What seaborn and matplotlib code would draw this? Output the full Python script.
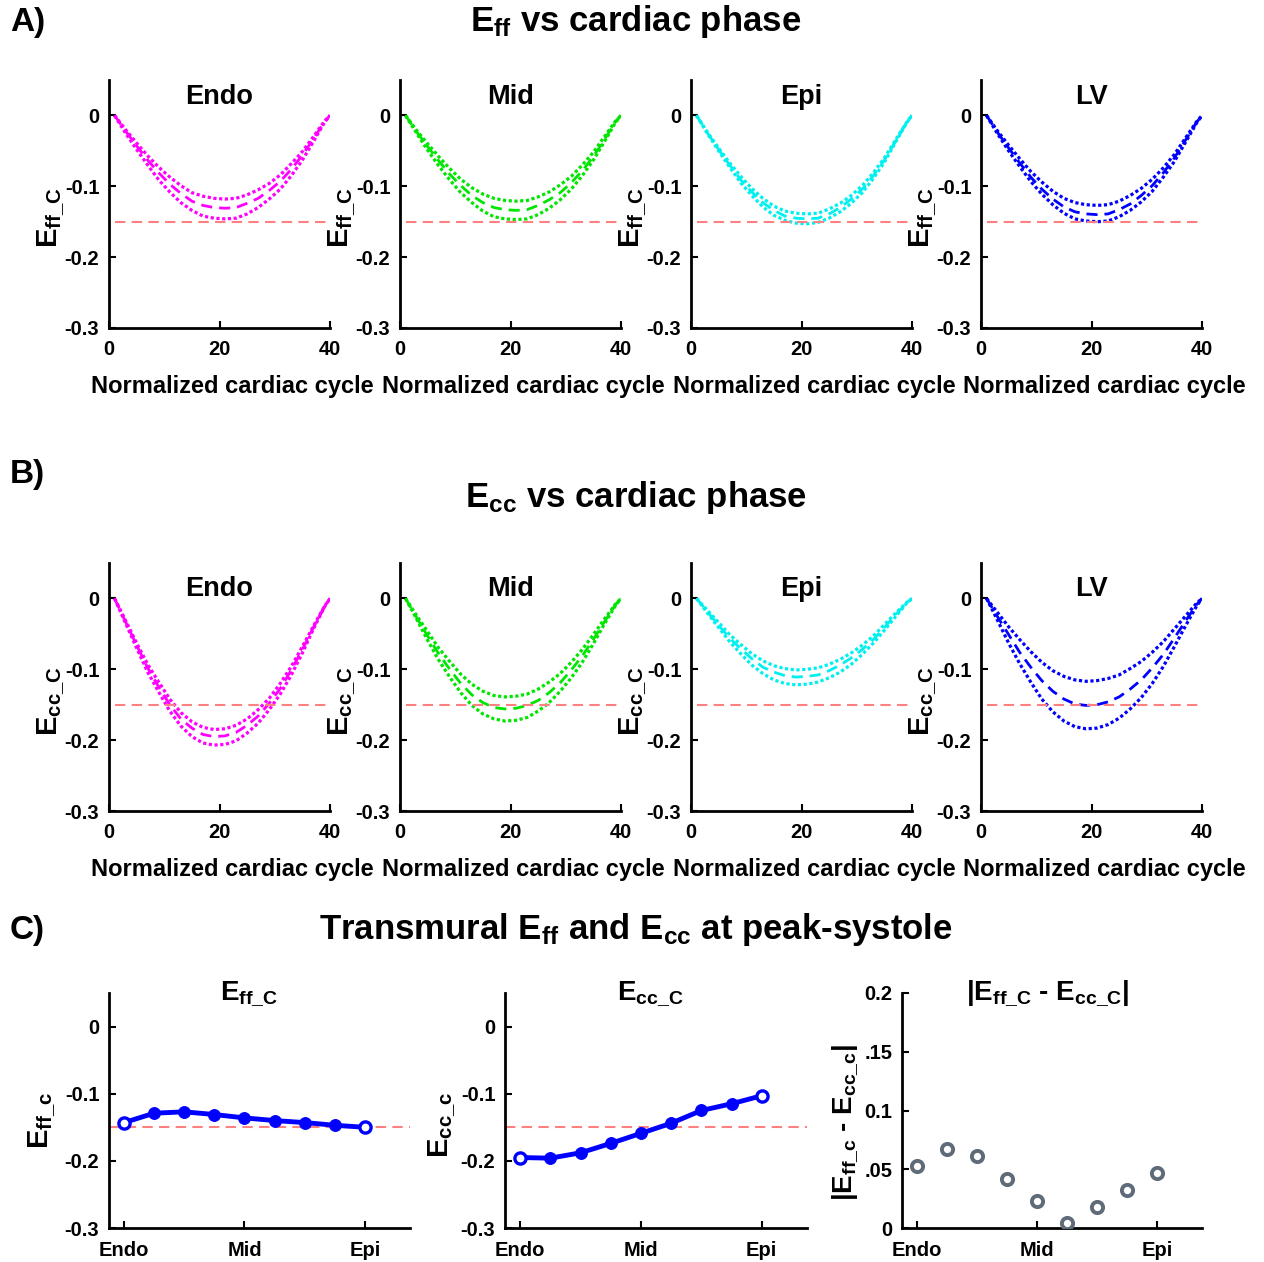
import seaborn as sns
import matplotlib
matplotlib.use('Agg')
import matplotlib.pyplot as plt

# frames sampled along the normalized cardiac cycle
frames = [1, 3, 5, 7, 9, 11, 13, 15, 17, 19, 21, 23, 25, 27, 29, 31, 33, 35, 37, 39, 40]

# E_ff per region: upper band, mean, lower band
eff_endo_hi = [0, -.020, -.039, -.057, -.073, -.087, -.099, -.109, -.114, -.117, -.118, -.117, -.112, -.105, -.096, -.084, -.068, -.051, -.030, -.008, 0]
eff_endo_mn = [0, -.022, -.043, -.063, -.081, -.097, -.110, -.121, -.127, -.130, -.131, -.130, -.124, -.117, -.106, -.093, -.076, -.056, -.033, -.009, 0]
eff_endo_lo = [0, -.025, -.048, -.070, -.091, -.108, -.123, -.134, -.142, -.145, -.146, -.145, -.139, -.130, -.118, -.104, -.085, -.063, -.037, -.010, 0]

eff_mid_hi = [0, -.021, -.040, -.058, -.075, -.090, -.102, -.111, -.117, -.120, -.121, -.120, -.115, -.108, -.098, -.086, -.070, -.052, -.030, -.008, 0]
eff_mid_mn = [0, -.023, -.044, -.064, -.083, -.099, -.113, -.123, -.130, -.133, -.134, -.133, -.127, -.119, -.109, -.095, -.078, -.058, -.034, -.009, 0]
eff_mid_lo = [0, -.025, -.049, -.071, -.091, -.109, -.123, -.135, -.143, -.146, -.147, -.146, -.140, -.131, -.119, -.104, -.085, -.063, -.037, -.010, 0]

eff_epi_hi = [0, -.024, -.046, -.067, -.086, -.103, -.117, -.128, -.135, -.138, -.139, -.138, -.132, -.124, -.113, -.099, -.081, -.060, -.035, -.010, 0]
eff_epi_mn = [0, -.025, -.048, -.070, -.091, -.108, -.123, -.134, -.142, -.145, -.146, -.145, -.139, -.130, -.118, -.104, -.085, -.063, -.037, -.010, 0]
eff_epi_lo = [0, -.026, -.050, -.073, -.095, -.113, -.129, -.141, -.148, -.152, -.153, -.151, -.145, -.136, -.124, -.109, -.089, -.066, -.038, -.011, 0]

eff_lv_hi = [0, -.022, -.042, -.061, -.079, -.094, -.107, -.117, -.123, -.126, -.127, -.126, -.121, -.113, -.103, -.090, -.074, -.055, -.032, -.009, 0]
eff_lv_mn = [0, -.024, -.046, -.067, -.087, -.104, -.118, -.129, -.136, -.139, -.140, -.139, -.133, -.125, -.113, -.099, -.081, -.060, -.035, -.010, 0]
eff_lv_lo = [0, -.026, -.050, -.072, -.093, -.111, -.126, -.138, -.146, -.149, -.150, -.149, -.143, -.134, -.122, -.107, -.087, -.065, -.038, -.011, 0]

# E_cc per region: upper band, mean, lower band
ecc_endo_hi = [0, -.031, -.063, -.093, -.118, -.142, -.161, -.174, -.182, -.185, -.184, -.179, -.170, -.157, -.141, -.120, -.096, -.068, -.039, -.011, 0]
ecc_endo_mn = [0, -.033, -.066, -.098, -.125, -.150, -.170, -.183, -.192, -.195, -.194, -.189, -.179, -.166, -.148, -.127, -.101, -.072, -.041, -.012, 0]
ecc_endo_lo = [0, -.035, -.070, -.104, -.132, -.159, -.180, -.195, -.204, -.207, -.206, -.201, -.190, -.176, -.157, -.135, -.108, -.077, -.043, -.012, 0]

ecc_mid_hi = [0, -.024, -.047, -.070, -.089, -.107, -.121, -.131, -.137, -.139, -.138, -.135, -.128, -.118, -.106, -.090, -.072, -.051, -.029, -.008, 0]
ecc_mid_mn = [0, -.027, -.053, -.078, -.100, -.120, -.136, -.147, -.154, -.156, -.155, -.151, -.144, -.133, -.119, -.101, -.081, -.058, -.033, -.009, 0]
ecc_mid_lo = [0, -.029, -.059, -.087, -.111, -.133, -.151, -.163, -.170, -.173, -.172, -.168, -.159, -.147, -.131, -.112, -.090, -.064, -.036, -.010, 0]

ecc_epi_hi = [0, -.017, -.034, -.051, -.065, -.078, -.088, -.095, -.099, -.101, -.100, -.098, -.093, -.086, -.077, -.066, -.053, -.037, -.021, -.006, 0]
ecc_epi_mn = [0, -.019, -.038, -.056, -.071, -.085, -.097, -.104, -.109, -.111, -.110, -.108, -.102, -.094, -.084, -.072, -.058, -.041, -.023, -.007, 0]
ecc_epi_lo = [0, -.021, -.041, -.061, -.078, -.094, -.106, -.115, -.120, -.122, -.121, -.118, -.112, -.104, -.093, -.079, -.063, -.045, -.026, -.007, 0]

ecc_lv_hi = [0, -.020, -.040, -.058, -.075, -.090, -.102, -.110, -.115, -.117, -.116, -.113, -.108, -.099, -.089, -.076, -.061, -.043, -.025, -.007, 0]
ecc_lv_mn = [0, -.026, -.051, -.076, -.097, -.116, -.131, -.142, -.149, -.151, -.150, -.146, -.139, -.128, -.115, -.098, -.079, -.056, -.032, -.009, 0]
ecc_lv_lo = [0, -.031, -.063, -.092, -.118, -.142, -.160, -.173, -.181, -.184, -.183, -.178, -.169, -.156, -.140, -.120, -.096, -.068, -.039, -.011, 0]

# transmural values at peak systole (Endo -> Epi)
layers = [1, 2, 3, 4, 5, 6, 7, 8, 9]
eff_peak = [-.143, -.129, -.127, -.131, -.136, -.140, -.143, -.147, -.150]
ecc_peak = [-.195, -.196, -.188, -.174, -.159, -.144, -.125, -.115, -.103]
diff_peak = [.053, .067, .061, .042, .023, .004, .018, .032, .047]

regions = ['Endo', 'Mid', 'Epi', 'LV']
region_colors = ['#ff00ff', '#00e600', '#00f0f0', '#0000ff']
threshold = -0.15

eff_curves = [(eff_endo_hi, eff_endo_mn, eff_endo_lo), (eff_mid_hi, eff_mid_mn, eff_mid_lo),
              (eff_epi_hi, eff_epi_mn, eff_epi_lo), (eff_lv_hi, eff_lv_mn, eff_lv_lo)]
ecc_curves = [(ecc_endo_hi, ecc_endo_mn, ecc_endo_lo), (ecc_mid_hi, ecc_mid_mn, ecc_mid_lo),
              (ecc_epi_hi, ecc_epi_mn, ecc_epi_lo), (ecc_lv_hi, ecc_lv_mn, ecc_lv_lo)]

sns.set_style('ticks')
plt.rcParams['font.family'] = ['Liberation Sans', 'DejaVu Sans']
plt.rcParams['font.weight'] = 'bold'
plt.rcParams['axes.labelweight'] = 'bold'
plt.rcParams['text.color'] = 'black'
plt.rcParams['axes.labelcolor'] = 'black'
plt.rcParams['xtick.color'] = 'black'
plt.rcParams['ytick.color'] = 'black'
plt.rcParams['mathtext.fontset'] = 'custom'
plt.rcParams['mathtext.rm'] = 'Liberation Sans:bold'
plt.rcParams['mathtext.it'] = 'Liberation Sans:bold'
plt.rcParams['mathtext.bf'] = 'Liberation Sans:bold'
plt.rcParams['axes.unicode_minus'] = False

W, H = 1264, 1262
fig = plt.figure(figsize=(W / 100, H / 100), dpi=100)


def px_axes(left, top, right, bottom):
    return fig.add_axes([left / W, 1 - bottom / H, (right - left) / W, (bottom - top) / H])


def style_axes(ax, xpad):
    sns.despine(ax=ax)
    for s in ['left', 'bottom']:
        ax.spines[s].set_linewidth(2)
        ax.spines[s].set_color('black')
    ax.tick_params(direction='in', length=5, width=1.5, labelsize=14.5, pad=7, colors='black')
    ax.tick_params(axis='x', pad=xpad)
    for lab in ax.get_xticklabels() + ax.get_yticklabels():
        lab.set_fontweight('bold')


lefts = [109, 400, 691, 981]
rows = [(80, 328, eff_curves, r'$\mathrm{E_{ff\_C}}$', 0.903),
        (563, 811, ecc_curves, r'$\mathrm{E_{cc\_C}}$', 0.867)]

for top, bottom, curves, ylab, title_y in rows:
    for i, left in enumerate(lefts):
        ax = px_axes(left, top, left + 221, bottom)
        hi, mn, lo = curves[i]
        c = region_colors[i]
        sns.lineplot(x=frames, y=hi, ax=ax, color=c, linestyle=(0, (1, 0.8)), linewidth=2.3)
        sns.lineplot(x=frames, y=lo, ax=ax, color=c, linestyle=(0, (1, 0.8)), linewidth=2.3)
        sns.lineplot(x=frames, y=mn, ax=ax, color=c, linestyle=(0, (4, 2.5)), linewidth=2)
        ax.hlines(threshold, frames[0], frames[-1], colors='#ff8080', linestyles=(0, (5, 3)), linewidth=1.5)
        ax.set_xlim(0, 40)
        ax.set_ylim(-0.3, 0.05)
        ax.set_xticks([0, 20, 40])
        ax.set_xticklabels(['0', '20', '40'])
        ax.set_yticks([0, -0.1, -0.2, -0.3])
        ax.set_yticklabels(['0', '-0.1', '-0.2', '-0.3'])
        style_axes(ax, 9)
        ax.text(0.5, title_y, regions[i], transform=ax.transAxes, ha='center', va='baseline',
                fontsize=19.5, fontweight='bold')
        ax.set_xlabel('Normalized cardiac cycle', fontsize=17, fontweight='bold')
        ax.xaxis.set_label_coords(0.56, -0.19)
        ax.set_ylabel(ylab, fontsize=21)
        ax.yaxis.set_label_coords(-0.19, 0.445)

# part C
c_axes = [(109, 410), (505, 807), (902, 1202)]
c_titles = [r'$\mathrm{E_{ff\_C}}$', r'$\mathrm{E_{cc\_C}}$', r'|E$_{\mathrm{ff\_C}}$ - E$_{\mathrm{cc\_C}}$|']
c_title_x = [0.465, 0.48, 0.487]
c_ylabels = [r'$\mathrm{E_{ff\_c}}$', r'$\mathrm{E_{cc\_c}}$', r'|E$_{\mathrm{ff\_c}}$ - E$_{\mathrm{cc\_c}}$|']
c_ylab_pos = [(-0.17, 0.46), (-0.156, 0.44), (-0.14, 0.45)]

for j, (l, r) in enumerate(c_axes):
    ax = px_axes(l, 993, r, 1228)
    if j < 2:
        vals = eff_peak if j == 0 else ecc_peak
        ax.axhline(threshold, color='#ff8080', linestyle=(0, (5, 3)), linewidth=1.5)
        sns.lineplot(x=layers, y=vals, ax=ax, color='#0000ff', linewidth=3.5, marker='o',
                     markersize=8.5, markeredgecolor='#0000ff')
        sns.scatterplot(x=[layers[0], layers[-1]], y=[vals[0], vals[-1]], ax=ax, s=65,
                        color='white', edgecolor='#0000ff', linewidth=2.4, zorder=4)
        ax.set_ylim(-0.3, 0.05)
        ax.set_yticks([0, -0.1, -0.2, -0.3])
        ax.set_yticklabels(['0', '-0.1', '-0.2', '-0.3'])
    else:
        sns.scatterplot(x=layers, y=diff_peak, ax=ax, s=65, color='white',
                        edgecolor='#5f6b78', linewidth=2.8, zorder=4)
        ax.set_ylim(0, 0.2)
        ax.set_yticks([0, 0.05, 0.1, 0.15, 0.2])
        ax.set_yticklabels(['0', '.05', '0.1', '.15', '0.2'])
    ax.set_xlim(0.5, 10.5)
    ax.set_xticks([1, 5, 9])
    ax.set_xticklabels(['Endo', 'Mid', 'Epi'])
    style_axes(ax, 9.5)
    ax.text(c_title_x[j], 0.97, c_titles[j], transform=ax.transAxes, ha='center', va='baseline',
            fontsize=20, fontweight='bold')
    ax.set_ylabel(c_ylabels[j], fontsize=21 if j < 2 else 20)
    ax.yaxis.set_label_coords(*c_ylab_pos[j])

# section labels and headings
fig.text(10 / W, 1 - 22 / H, 'A)', ha='left', va='center', fontsize=24, fontweight='bold')
fig.text(636 / W, 1 - 22 / H, r'E$_{\mathrm{ff}}$ vs cardiac phase', ha='center', va='center',
         fontsize=25, fontweight='bold')
fig.text(10 / W, 1 - 474 / H, 'B)', ha='left', va='center', fontsize=24, fontweight='bold')
fig.text(636 / W, 1 - 497 / H, r'E$_{\mathrm{cc}}$ vs cardiac phase', ha='center', va='center',
         fontsize=25, fontweight='bold')
fig.text(10 / W, 1 - 930 / H, 'C)', ha='left', va='center', fontsize=24, fontweight='bold')
fig.text(636 / W, 1 - 930 / H, r'Transmural E$_{\mathrm{ff}}$ and E$_{\mathrm{cc}}$ at peak-systole',
         ha='center', va='center', fontsize=25, fontweight='bold')

fig.savefig('out.png', dpi=100)
